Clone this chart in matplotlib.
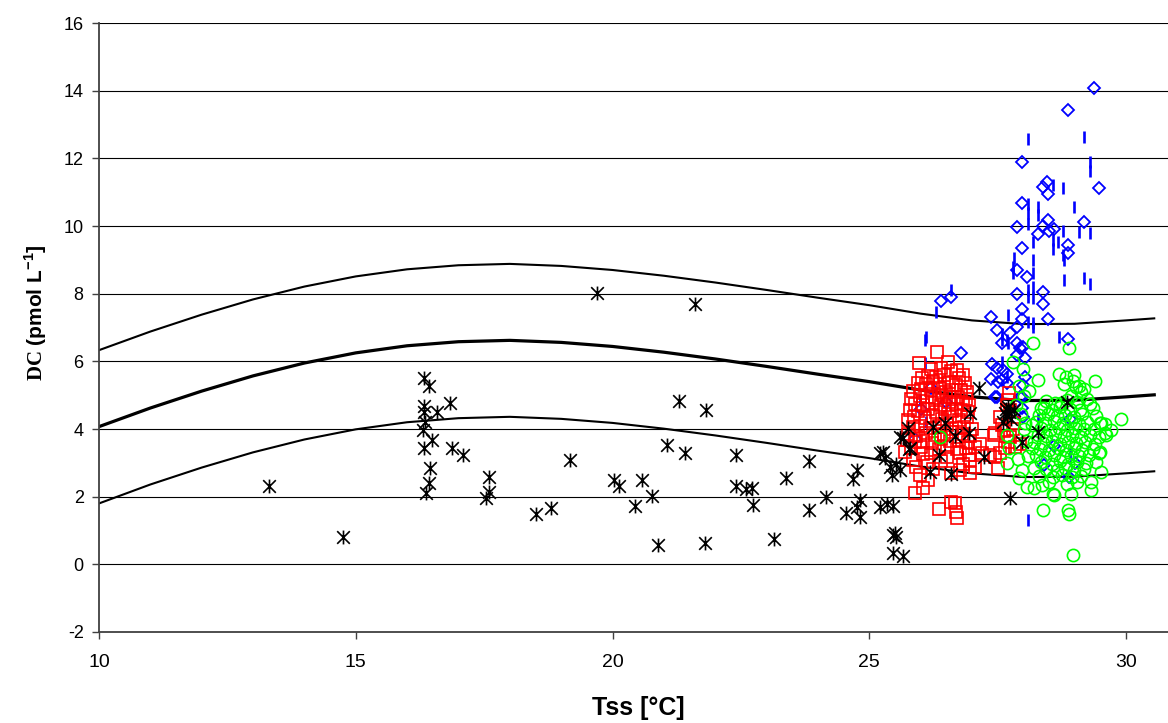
import matplotlib
matplotlib.use("Agg")
import matplotlib.pyplot as plt
from matplotlib.path import Path

# ---------------- data ----------------
curve_x = [10, 11, 12, 13, 14, 15, 16, 17, 18, 19, 20, 21, 22, 23, 24, 25, 26, 27, 28, 29, 30, 30.55]
curve_mid = [4.07, 4.62, 5.12, 5.57, 5.95, 6.25, 6.46, 6.58, 6.62, 6.56, 6.44, 6.27, 6.07, 5.85,
             5.62, 5.40, 5.15, 4.95, 4.84, 4.85, 4.95, 5.01]
curve_up = [6.33, 6.88, 7.38, 7.83, 8.21, 8.51, 8.72, 8.84, 8.88, 8.82, 8.70, 8.53, 8.33, 8.11,
            7.88, 7.66, 7.41, 7.21, 7.10, 7.11, 7.21, 7.27]
curve_lo = [1.80, 2.36, 2.86, 3.31, 3.69, 3.99, 4.20, 4.32, 4.36, 4.30, 4.18, 4.01, 3.81, 3.59,
            3.36, 3.14, 2.89, 2.69, 2.58, 2.59, 2.69, 2.75]

black_x = [13.31, 14.75, 16.32, 16.43, 16.33, 16.32, 16.58, 16.83, 16.30, 16.35, 16.48, 16.32, 16.87,
           17.08, 16.45, 16.43, 16.37, 17.60, 17.60, 17.54, 18.51, 18.80, 19.17, 19.70, 20.02, 20.13,
           20.57, 20.76, 20.43, 20.88, 21.30, 21.61, 21.80, 21.83, 21.06, 21.41, 22.41, 22.41, 22.60,
           22.71, 22.73, 23.15, 23.38, 23.83, 23.83, 24.16, 24.55, 24.69, 24.77, 24.82, 24.77, 24.82,
           25.21, 25.34, 25.46, 25.47, 25.53, 25.50, 25.46, 25.65, 25.21, 25.27, 25.31, 25.40, 25.44,
           25.53, 25.60, 25.60, 25.65, 25.76, 25.78, 25.79, 26.25, 26.47, 26.18, 26.35, 26.60, 26.67,
           26.95, 26.96, 27.14, 27.23, 27.61, 27.64, 27.71, 27.81, 27.77, 27.68, 27.72, 27.66, 27.97,
           28.29, 28.86, 27.74]
black_y = [2.31, 0.81, 5.51, 5.27, 4.68, 4.51, 4.51, 4.77, 3.97, 4.20, 3.67, 3.43, 3.43,
           3.23, 2.84, 2.39, 2.12, 2.59, 2.15, 1.95, 1.48, 1.67, 3.08, 8.01, 2.49, 2.31,
           2.49, 2.03, 1.72, 0.57, 4.83, 7.69, 0.64, 4.56, 3.52, 3.30, 3.23, 2.31, 2.24,
           2.27, 1.75, 0.74, 2.54, 3.06, 1.62, 2.00, 1.51, 2.52, 2.79, 1.90, 1.70, 1.39,
           1.70, 1.78, 1.72, 0.87, 0.82, 0.92, 0.34, 0.25, 3.28, 3.33, 3.14, 2.88, 2.64,
           2.98, 2.79, 3.77, 3.72, 4.02, 3.40, 3.43, 4.07, 4.18, 2.74, 3.23, 2.67, 3.79,
           3.87, 4.48, 5.20, 3.18, 4.21, 4.46, 4.66, 4.56, 4.31, 4.38, 4.50, 4.60, 3.62,
           3.92, 4.80, 1.95]

diam_x = [29.38, 28.88, 27.98, 29.48, 28.47, 28.38, 28.49, 27.98, 27.88, 28.49, 28.38, 28.50, 28.60,
          29.18, 28.28, 27.98, 28.88, 28.88, 27.88, 28.08, 27.88, 28.38, 28.39, 28.49, 27.98, 27.98,
          27.38, 27.88, 27.48, 27.74, 27.58, 27.87, 27.94, 27.99, 27.88, 28.03, 27.40, 27.48, 27.61,
          27.68, 27.38, 27.51, 27.68, 27.58, 28.03, 28.00, 28.88, 26.39, 26.59, 26.78, 27.48, 27.94,
          27.45, 27.97, 27.99, 27.97, 28.40, 28.89, 26.00, 26.20, 26.50, 25.90, 28.60, 29.00, 28.90]
diam_y = [14.09, 13.44, 11.88, 11.11, 11.30, 11.14, 10.94, 10.68, 9.96, 10.17, 9.99, 9.86, 9.90,
          10.12, 9.75, 9.34, 9.43, 9.21, 8.69, 8.50, 7.99, 8.04, 7.69, 7.24, 7.56, 7.25,
          7.30, 7.02, 6.92, 6.84, 6.55, 6.53, 6.38, 6.43, 6.18, 6.09, 5.92, 5.79, 5.74,
          5.64, 5.49, 5.39, 5.35, 5.44, 5.54, 5.30, 6.65, 7.79, 7.89, 6.25, 4.95, 4.95,
          4.95, 4.61, 4.36, 4.94, 2.94, 2.59, 4.60, 5.20, 4.80, 3.70, 3.50, 3.00, 4.30]

dash_x = [28.09, 29.19, 29.29, 29.29, 28.58, 28.78, 28.09, 28.09, 28.29, 28.29, 28.99, 28.09, 28.78,
          29.09, 29.29, 28.19, 28.58, 28.58, 28.68, 28.78, 27.81, 28.79, 28.79, 29.19, 29.29, 27.79,
          27.79, 28.19, 28.19, 28.19, 28.09, 28.09, 28.18, 26.59, 26.30, 27.70, 28.19, 28.09, 28.18,
          28.70, 26.10, 26.09, 26.09, 27.58, 27.70, 27.58, 27.68, 27.58, 27.68, 28.29, 28.10, 25.99,
          26.10, 28.90]
dash_y = [12.58, 12.63, 11.88, 11.62, 11.21, 11.11, 10.66, 10.37, 10.56, 10.32, 10.56, 10.05, 9.86,
          9.83, 9.78, 9.53, 9.58, 9.33, 9.53, 9.14, 9.04, 8.99, 8.40, 8.45, 8.30, 8.79,
          8.60, 8.99, 8.60, 8.20, 8.10, 7.91, 7.86, 8.10, 7.46, 7.36, 7.12, 7.17, 7.02,
          6.72, 6.72, 6.63, 5.94, 6.63, 6.53, 6.82, 6.63, 5.99, 5.54, 4.31, 1.31, 4.85,
          4.20, 3.30]

red_x = [26.31, 25.96, 26.54, 26.21, 26.40, 26.70, 26.60, 26.02, 26.15, 26.30, 26.45, 26.83, 26.75,
         25.95, 26.10, 26.25, 26.38, 26.55, 26.68, 26.86, 25.85, 26.00, 26.20, 26.35, 26.50, 26.62,
         26.78, 26.90, 25.82, 25.98, 26.12, 26.28, 26.42, 26.58, 26.72, 26.88, 25.90, 26.05, 26.22,
         26.40, 26.55, 26.68, 26.82, 26.95, 25.80, 25.95, 26.15, 26.30, 26.48, 26.62, 26.78, 26.92,
         25.76, 25.88, 26.08, 26.25, 26.42, 26.58, 26.74, 26.90, 25.85, 26.00, 26.18, 26.35, 26.52,
         26.68, 26.85, 27.00, 25.75, 25.92, 26.10, 26.28, 26.45, 26.62, 26.80, 26.96, 25.73, 25.90,
         26.05, 26.22, 26.40, 26.58, 26.75, 26.92, 27.15, 25.82, 26.00, 26.35, 26.52, 26.70, 26.88,
         27.05, 25.70, 26.05, 26.20, 26.51, 26.77, 26.95, 27.19, 25.86, 26.12, 26.40, 26.83, 26.96,
         25.92, 26.25, 26.77, 27.06, 25.99, 26.60, 26.96, 26.15, 26.05, 25.89, 26.60, 26.67, 26.35,
         26.69, 26.70, 27.42, 27.45, 27.51, 27.35, 27.71, 27.74, 27.55, 27.58, 27.81, 27.74, 27.84,
         27.94, 27.64, 27.55, 27.68, 27.62, 27.80, 27.70, 27.45, 27.72]
red_y = [6.28, 5.94, 5.97, 5.76, 5.80, 5.74, 5.70, 5.52, 5.58, 5.55, 5.60, 5.59, 5.50,
         5.36, 5.32, 5.40, 5.34, 5.38, 5.30, 5.35, 5.12, 5.18, 5.15, 5.20, 5.10, 5.16,
         5.14, 5.08, 4.90, 4.98, 4.95, 4.92, 5.00, 4.94, 4.96, 4.90, 4.75, 4.72, 4.78,
         4.70, 4.80, 4.74, 4.76, 4.70, 4.55, 4.52, 4.58, 4.50, 4.60, 4.54, 4.56, 4.50,
         4.26, 4.35, 4.32, 4.38, 4.30, 4.36, 4.28, 4.34, 4.05, 4.10, 4.02, 4.08, 4.12,
         4.04, 4.06, 4.00, 3.85, 3.80, 3.88, 3.82, 3.86, 3.90, 3.84, 3.80, 3.67, 3.62,
         3.66, 3.60, 3.70, 3.64, 3.68, 3.62, 3.57, 3.45, 3.48, 3.42, 3.46, 3.40, 3.44,
         3.47, 3.33, 3.25, 3.28, 3.18, 3.30, 3.22, 3.28, 3.08, 3.02, 3.06, 2.98, 3.08,
         2.88, 2.82, 2.79, 2.88, 2.64, 2.70, 2.69, 2.48, 2.25, 2.10, 1.85, 1.80, 1.65,
         1.55, 1.36, 3.82, 3.18, 2.84, 3.23, 4.85, 4.56, 4.36, 4.12, 4.17, 3.77, 3.47,
         3.57, 3.43, 3.28, 4.70, 3.95, 4.00, 3.62, 3.87, 5.05]

green_x = [28.19, 28.89, 27.79, 27.99, 28.29, 28.70, 28.99, 29.40, 29.91, 27.91, 28.11, 28.01, 28.40,
           28.79, 29.08, 29.19, 29.25, 29.52, 29.62, 29.48, 29.52, 29.32, 29.32, 28.93, 28.89, 28.60,
           28.39, 28.21, 28.07, 27.91, 27.68, 27.68, 28.01, 28.04, 28.17, 28.17, 28.21, 28.37, 27.98,
           28.97, 26.38, 29.59, 29.49, 29.49, 28.58, 28.88, 28.83, 28.96, 29.02, 29.12, 28.93, 28.73,
           27.85, 27.95, 27.72, 28.05, 28.10, 27.90,
           28.45, 28.62, 28.85, 29.05, 29.30,
           28.35, 28.55, 28.72, 28.90, 29.10, 29.35,
           28.30, 28.48, 28.66, 28.82, 28.98, 29.15, 29.42,
           28.25, 28.42, 28.60, 28.78, 28.92, 29.08, 29.25, 29.60,
           28.35, 28.52, 28.70, 28.86, 29.00, 29.18, 29.38, 29.70,
           28.28, 28.45, 28.62, 28.80, 28.95, 29.12, 29.30, 29.48,
           28.20, 28.38, 28.55, 28.72, 28.88, 29.02, 29.20, 29.40,
           28.32, 28.50, 28.68, 28.84, 28.98, 29.15, 29.35,
           28.25, 28.42, 28.60, 28.78, 28.92, 29.08, 29.28,
           28.35, 28.55, 28.72, 28.88, 29.05, 29.22, 29.42,
           28.45, 28.65, 28.82, 28.98, 29.18,
           28.30, 28.58, 28.76, 28.95, 29.12,
           28.50, 28.85, 29.05]
green_y = [6.55, 6.40, 5.98, 5.78, 5.45, 5.63, 5.60, 5.41, 4.31, 5.28, 5.13, 4.98, 4.63,
           5.33, 5.28, 5.18, 4.88, 4.18, 3.81, 3.29, 2.74, 2.44, 2.19, 2.09, 1.49, 2.04,
           1.62, 2.26, 2.29, 2.54, 2.99, 3.83, 3.99, 4.18, 4.13, 3.44, 2.84, 2.34, 2.79,
           0.27, 3.77, 3.87, 3.33, 4.17, 2.08, 1.60, 5.53, 5.43, 5.23, 5.08, 4.98, 4.78,
           4.70, 4.45, 3.45, 3.65, 3.20, 3.10,
           4.82, 4.76, 4.85, 4.79, 4.74,
           4.62, 4.57, 4.64, 4.58, 4.55, 4.61,
           4.40, 4.44, 4.37, 4.42, 4.36, 4.45, 4.39,
           4.21, 4.18, 4.24, 4.19, 4.23, 4.16, 4.22, 4.15,
           4.02, 3.98, 4.04, 3.97, 4.03, 3.99, 4.01, 3.96,
           3.81, 3.78, 3.84, 3.79, 3.83, 3.77, 3.82, 3.76,
           3.62, 3.58, 3.64, 3.57, 3.63, 3.59, 3.61, 3.56,
           3.41, 3.38, 3.44, 3.37, 3.43, 3.39, 3.42,
           3.22, 3.18, 3.24, 3.17, 3.21, 3.19, 3.23,
           3.02, 2.98, 3.04, 2.97, 3.03, 2.99, 3.01,
           2.82, 2.78, 2.84, 2.79, 2.81,
           2.62, 2.58, 2.64, 2.57, 2.61,
           2.42, 2.38, 2.44]

y_ticks = [-2, 0, 2, 4, 6, 8, 10, 12, 14, 16]
y_tick_labels = ["-2", "0", "2", "4", "6", "8", "10", "12", "14", "16"]
x_ticks = [10, 15, 20, 25, 30]
x_tick_labels = ["10", "15", "20", "25", "30"]

# ---------------- style ----------------
plt.rcParams['font.family'] = ['Liberation Sans', 'DejaVu Sans']
plt.rcParams['mathtext.fontset'] = 'custom'
plt.rcParams['mathtext.bf'] = 'Liberation Serif:bold'
plt.rcParams['mathtext.sf'] = 'Liberation Sans:bold'
plt.rcParams['mathtext.rm'] = 'Liberation Sans:bold'

W, H = 1168, 723
fig = plt.figure(figsize=(W / 100, H / 100), dpi=100)
left_px, right_px, top_px, bot_px = 99, 1168, 23, 632
ax = fig.add_axes([left_px / W, 1 - bot_px / H, (right_px - left_px) / W, (bot_px - top_px) / H])

x_per_px = 5 / 256.75
ax.set_xlim(10, 10 + (right_px - left_px) * x_per_px)
ax.set_ylim(-2, 16)

for yv in y_ticks[1:]:
    ax.axhline(yv, color='black', lw=0.8, zorder=0)

for s in ['top', 'right']:
    ax.spines[s].set_visible(False)
for s in ['left', 'bottom']:
    ax.spines[s].set_color('#404040')
    ax.spines[s].set_linewidth(1.3)

ax.set_yticks(y_ticks)
ax.set_yticklabels(y_tick_labels, fontsize=13)
ax.set_xticks(x_ticks)
ax.set_xticklabels(x_tick_labels, fontsize=14)
ax.tick_params(axis='both', direction='out', length=5, width=1.0, color='#404040')
ax.tick_params(axis='y', pad=6)
ax.tick_params(axis='x', pad=11)

# curves
ax.plot(curve_x, curve_up, color='black', lw=1.5, zorder=1)
ax.plot(curve_x, curve_mid, color='black', lw=2.3, zorder=1)
ax.plot(curve_x, curve_lo, color='black', lw=1.5, zorder=1)

# markers
star = Path([(-0.5, -0.5), (0.5, 0.5), (-0.5, 0.5), (0.5, -0.5), (0, -0.55), (0, 0.55)],
            [Path.MOVETO, Path.LINETO, Path.MOVETO, Path.LINETO, Path.MOVETO, Path.LINETO])

ax.plot(dash_x, dash_y, ls='none', marker='|', ms=8.5, mew=1.9, color='#0000FF', zorder=2)
ax.plot(diam_x, diam_y, ls='none', marker='D', ms=5.8, mew=1.3, mfc='none', mec='#0000FF', zorder=2)
ax.plot(red_x, red_y, ls='none', marker='s', ms=8.5, mew=1.2, mfc='none', mec='#FF0000', zorder=3)
ax.plot(green_x, green_y, ls='none', marker='o', ms=8.8, mew=1.2, mfc='none', mec='#00FF00', zorder=4)
ax.plot(black_x, black_y, ls='none', marker=star, ms=10, mew=1.2, color='black', zorder=5)

fig.text(638 / W, 1 - 708 / H, 'Tss [°C]', fontsize=18, fontweight='bold', ha='center', va='center')
fig.text(36 / W, 1 - 313 / H, r'$\mathbf{DC}$ (pmol L$^{\mathsf{-1}}$]', fontsize=15,
         fontweight='bold', rotation=90, ha='center', va='center')

fig.savefig('out.png', dpi=100)
